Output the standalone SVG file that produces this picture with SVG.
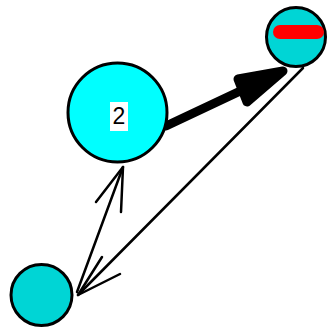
<svg xmlns="http://www.w3.org/2000/svg" width="327" height="329" viewBox="0 0 327 329">
<style>
.node{stroke:#000;stroke-width:3}
.edge{stroke:#000;fill:none;stroke-width:2.5;stroke-linecap:round;stroke-linejoin:round}
.thick{stroke:#000;stroke-width:9;stroke-linecap:round;stroke-linejoin:round}
.lbl{font-family:"Liberation Sans",Arial,sans-serif;font-size:23px;fill:#000;text-anchor:middle}
</style>
<rect width="327" height="329" fill="#fff"/>
<g id="edges">
<line class="edge" x1="303" y1="68" x2="78" y2="295"/>
<polyline class="edge" points="102,257 78,295 120,274"/>
<line class="edge" x1="77" y1="292" x2="123" y2="167"/>
<polyline class="edge" points="96,202 123,167 121,212"/>
<line class="thick" x1="166" y1="126" x2="270" y2="77"/>
<polygon class="thick" fill="#000" points="283,71 238,79 247,102"/>
</g>
<g id="node2">
<circle class="node" cx="117.5" cy="112.5" r="49.5" fill="#00ffff"/>
<rect x="110" y="102" width="18" height="29" fill="#fff"/>
<text class="lbl" x="119" y="124">2</text>
</g>
<g id="nodeTop">
<circle class="node" cx="296" cy="37" r="29.5" fill="#00d5d5"/>
<rect x="273" y="25" width="51" height="14" rx="7" fill="#ff0000"/>
</g>
<g id="nodeBottom">
<circle class="node" cx="41.5" cy="295" r="30.5" fill="#00d5d5"/>
</g>
</svg>
